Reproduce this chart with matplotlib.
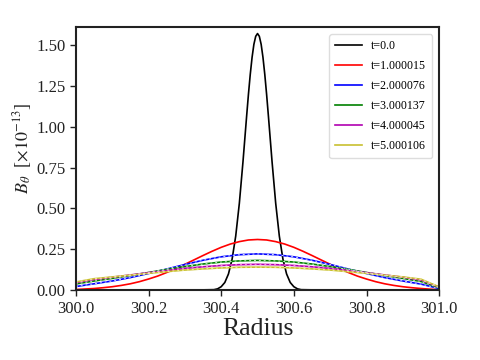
import matplotlib
matplotlib.use("Agg")
import matplotlib.pyplot as plt

# t=0 curve (dense near the peak)
r0 = [300.0, 300.3, 300.38, 300.39, 300.40, 300.41, 300.42, 300.43, 300.44, 300.45, 300.46, 300.47,
      300.475, 300.48, 300.485, 300.49, 300.495, 300.50, 300.505, 300.51, 300.515, 300.52, 300.525,
      300.53, 300.54, 300.55, 300.56, 300.57, 300.58, 300.59, 300.60, 300.61, 300.62, 300.7, 301.0]
b0 = [0.0, 0.0, 0.003, 0.008, 0.021, 0.047, 0.099, 0.189, 0.331, 0.532, 0.786, 1.064,
      1.198, 1.320, 1.424, 1.504, 1.553, 1.570, 1.553, 1.504, 1.424, 1.320, 1.198,
      1.064, 0.786, 0.532, 0.331, 0.189, 0.099, 0.047, 0.021, 0.008, 0.003, 0.0, 0.0]

# t=1 curve
r1 = [300.0, 300.025, 300.05, 300.075, 300.10, 300.125, 300.15, 300.175, 300.20, 300.225,
      300.25, 300.275, 300.30, 300.325, 300.35, 300.375, 300.40, 300.425, 300.45, 300.475,
      300.50, 300.525, 300.55, 300.575, 300.60, 300.625, 300.65, 300.675, 300.70, 300.725,
      300.75, 300.775, 300.80, 300.825, 300.85, 300.875, 300.90, 300.925, 300.95, 300.975, 301.0]
b1 = [0.004, 0.007, 0.010, 0.015, 0.021, 0.029, 0.039, 0.052, 0.068, 0.086,
      0.108, 0.132, 0.158, 0.185, 0.212, 0.238, 0.262, 0.282, 0.297, 0.307,
      0.310, 0.307, 0.297, 0.282, 0.262, 0.238, 0.212, 0.185, 0.158, 0.132,
      0.108, 0.086, 0.068, 0.052, 0.039, 0.029, 0.021, 0.015, 0.010, 0.006, 0.003]

# later times on a common radius grid
r = [300.0, 300.05, 300.10, 300.15, 300.20, 300.25, 300.30, 300.35, 300.40, 300.45, 300.50,
     300.55, 300.60, 300.65, 300.70, 300.75, 300.80, 300.85, 300.90, 300.95, 301.0]
b2 = [0.022, 0.039, 0.056, 0.077, 0.102, 0.129, 0.157, 0.183, 0.204, 0.217, 0.222,
      0.217, 0.204, 0.183, 0.157, 0.129, 0.102, 0.077, 0.056, 0.037, 0.010]
b3 = [0.038, 0.056, 0.072, 0.090, 0.108, 0.127, 0.144, 0.160, 0.172, 0.179, 0.182,
      0.179, 0.172, 0.160, 0.144, 0.127, 0.108, 0.090, 0.072, 0.053, 0.014]
b4 = [0.046, 0.065, 0.079, 0.093, 0.107, 0.120, 0.133, 0.143, 0.151, 0.156, 0.158,
      0.156, 0.151, 0.143, 0.133, 0.120, 0.107, 0.093, 0.079, 0.062, 0.018]
b5 = [0.050, 0.070, 0.081, 0.092, 0.103, 0.113, 0.123, 0.130, 0.136, 0.140, 0.141,
      0.140, 0.136, 0.130, 0.123, 0.113, 0.103, 0.092, 0.081, 0.067, 0.020]

labels = ["t=0.0", "t=1.000015", "t=2.000076", "t=3.000137", "t=4.000045", "t=5.000106"]
colors = ["black", "red", "blue", "green", "#b000b0", "#c8c030"]
dash_colors = [None, None, "#d0d8ff", "#c0f0c0", "#ff90e0", "#f4f0a0"]

plt.rcParams['font.family'] = ['Liberation Serif', 'DejaVu Serif']
plt.rcParams['mathtext.fontset'] = 'stix'

fig = plt.figure(figsize=(4.8, 3.6), dpi=100)
ax = fig.add_axes([0.158, 0.194, 0.757, 0.731])

series = [(r0, b0), (r1, b1), (r, b2), (r, b3), (r, b4), (r, b5)]
for (x, y), lab, c in zip(series, labels, colors):
    ax.plot(x, y, color=c, lw=1.2, label=lab)
for (x, y), dc in zip(series[2:], dash_colors[2:]):
    ax.plot(x, y, color=dc, lw=0.7, ls=(0, (2, 3)))

ax.set_xlim(300.0, 301.0)
ax.set_ylim(0.0, 1.61)
ax.set_xticks([300.0, 300.2, 300.4, 300.6, 300.8, 301.0])
ax.set_xticklabels(["300.0", "300.2", "300.4", "300.6", "300.8", "301.0"])
ax.set_yticks([0.0, 0.25, 0.5, 0.75, 1.0, 1.25, 1.5])
ax.set_yticklabels(["0.00", "0.25", "0.50", "0.75", "1.00", "1.25", "1.50"])
ax.tick_params(labelsize=12, direction='out', length=4, width=1, colors='#222222', labelcolor='#222222')
for s in ax.spines.values():
    s.set_linewidth(1.5)
    s.set_color('#222222')

ax.set_xlabel("Radius", fontsize=18.5, color='#222222', labelpad=1)
ax.set_ylabel(r"$B_\theta$  [$\times10^{-13}$]", fontsize=13, color='#222222')
ax.yaxis.set_label_coords(-0.115, 0.54)

leg = ax.legend(loc='upper right', fontsize=8.6, handlelength=2.2, framealpha=1,
                edgecolor='#dddddd', borderpad=0.5, labelspacing=0.67, borderaxespad=0.6)

fig.savefig("out.png", dpi=100)
